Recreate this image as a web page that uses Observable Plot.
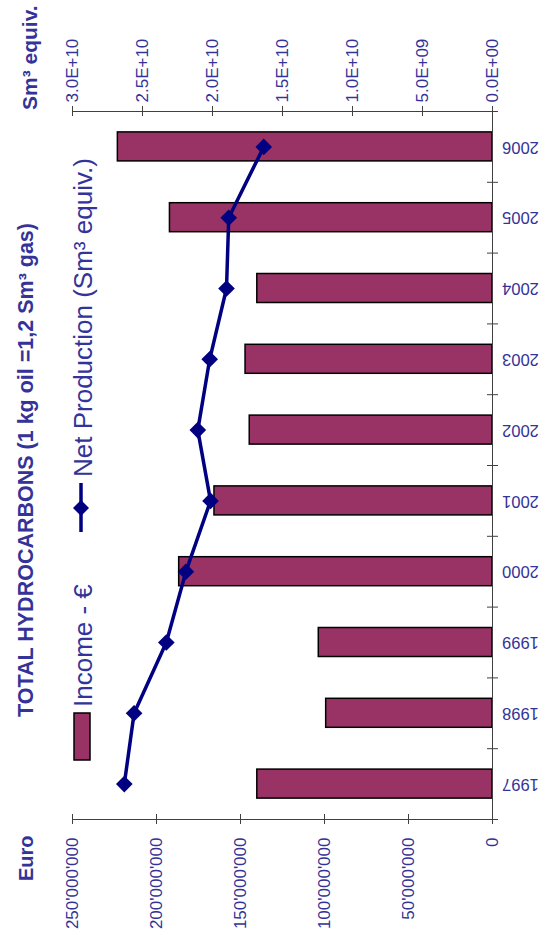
<!DOCTYPE html>
<html>
<head>
<meta charset="utf-8">
<script src="https://cdn.jsdelivr.net/npm/d3@7"></script>
<script src="https://cdn.jsdelivr.net/npm/@observablehq/plot@0.6"></script>
<style>
  html, body { margin: 0; padding: 0; background: #fff; }
  svg { display: block; }
</style>
</head>
<body>
<div id="chart"></div>
<script>
// ---- data ----
const years = [1997, 1998, 1999, 2000, 2001, 2002, 2003, 2004, 2005, 2006];
const income = [140e6, 99e6, 103.4e6, 186.5e6, 165.5e6, 144.5e6, 147e6, 140e6, 192e6, 223e6];
const production = [2.63e10, 2.56e10, 2.33e10, 2.19e10, 2.014e10, 2.105e10, 2.02e10, 1.90e10, 1.884e10, 1.634e10];
const euroTicks = [0, 50e6, 100e6, 150e6, 200e6, 250e6];
const euroTickLabels = ["0", "50'000'000", "100'000'000", "150'000'000", "200'000'000", "250'000'000"];
const sm3Ticks = [0, 5e9, 1e10, 1.5e10, 2e10, 2.5e10, 3e10];
const sm3TickLabels = ["0.0E+00", "5.0E+09", "1.0E+10", "1.5E+10", "2.0E+10", "2.5E+10", "3.0E+10"];
const titleText = "TOTAL HYDROCARBONS (1 kg oil =1,2 Sm\u00b3 gas)";
const seriesNames = ["Income - \u20ac", "Net Production (Sm\u00b3 equiv.)"];
const leftAxisTitle = "Euro";
const rightAxisTitle = "Sm\u00b3 equiv.";

const EURO_MAX = 250e6, SM3_MAX = 3e10;
const K = EURO_MAX / SM3_MAX; // map secondary axis onto the primary scale

const table = years.map((y, i) => ({year: y, income: income[i], sm3: production[i]}));
const bounds = d3.range(years.length + 1).map(i => years[0] - 0.5 + i);
const yBottom = years[0] - 0.5, yTop = years[years.length - 1] + 0.5;

const textColor = "#333399";
const axisColor = "#404040";
const font = "'Liberation Sans', Arial, Helvetica, sans-serif";

const svg = Plot.plot({
  width: 551,
  height: 935,
  marginLeft: 72,
  marginRight: 59,
  marginTop: 111,
  marginBottom: 116,
  style: {fontFamily: font, background: "#fff", color: textColor, overflow: "visible"},
  x: {domain: [0, EURO_MAX], reverse: true, axis: null},
  y: {domain: [yBottom, yTop], axis: null},
  marks: [
    // bars
    Plot.rect(table, {
      x1: () => 0, x2: "income",
      y1: d => d.year - 0.5, y2: d => d.year + 0.5,
      insetTop: 20.9, insetBottom: 20.9,
      fill: "#993366", stroke: "#000", strokeWidth: 1.5
    }),
    // axis lines
    Plot.ruleY([yBottom], {stroke: axisColor, strokeWidth: 1}),
    Plot.ruleY([yTop], {stroke: axisColor, strokeWidth: 1}),
    Plot.ruleX([0], {y1: () => yTop, y2: () => yBottom, insetTop: -4, insetBottom: -4, stroke: axisColor, strokeWidth: 1}),
    // euro ticks (bottom)
    Plot.ruleX(euroTicks, {x: d => d, y1: () => yBottom, y2: () => yBottom, insetTop: -5, insetBottom: -5, stroke: axisColor, strokeWidth: 1}),
    // sm3 ticks (top)
    Plot.ruleX(sm3Ticks, {x: d => d * K, y1: () => yTop, y2: () => yTop, insetTop: -5, insetBottom: -5, stroke: axisColor, strokeWidth: 1}),
    // category boundary ticks
    Plot.ruleY(bounds, {y: d => d, x1: () => 0, x2: () => 0, insetLeft: -5, insetRight: -6, stroke: axisColor, strokeWidth: 1}),
    // line + diamonds
    Plot.line(table, {x: d => d.sm3 * K, y: "year", stroke: "#000080", strokeWidth: 3.5}),
    Plot.dot(table, {x: d => d.sm3 * K, y: "year", symbol: "diamond2", r: 7.5, fill: "#000080", stroke: "none"}),
    // euro tick labels
    Plot.text(euroTicks, {x: d => d, y: () => yBottom, text: (d, i) => euroTickLabels[i], rotate: -90, textAnchor: "end", lineAnchor: "middle", dy: 18, fontSize: 17, fill: textColor}),
    // sm3 tick labels
    Plot.text(sm3Ticks, {x: d => d * K, y: () => yTop, text: (d, i) => sm3TickLabels[i], rotate: -90, textAnchor: "start", lineAnchor: "middle", dy: -9, fontSize: 17, fill: textColor}),
    // year labels (upside down)
    Plot.text(years, {x: () => 0, y: d => d, text: d => String(d), rotate: 180, textAnchor: "middle", lineAnchor: "middle", dx: 28, fontSize: 16.5, fill: textColor})
  ]
});

const s = d3.select(svg);
function rotText(x, y, txt, size, weight) {
  s.append("text")
    .attr("transform", `translate(${x},${y}) rotate(-90)`)
    .attr("text-anchor", "start")
    .attr("font-family", font)
    .attr("font-size", size)
    .attr("font-weight", weight)
    .attr("fill", textColor)
    .text(txt);
}
// title and axis titles
rotText(33, 717, titleText, 21.5, "bold");
rotText(33, 881, leftAxisTitle, 20, "bold");
rotText(37, 110, rightAxisTitle, 21, "bold");
// legend
s.append("rect").attr("x", 74).attr("y", 713).attr("width", 16).attr("height", 47)
  .attr("fill", "#993366").attr("stroke", "#000").attr("stroke-width", 1.5);
rotText(92, 707, seriesNames[0], 26, "normal");
s.append("line").attr("x1", 81).attr("x2", 81).attr("y1", 483).attr("y2", 532)
  .attr("stroke", "#000080").attr("stroke-width", 3.5);
s.append("path").attr("d", "M81,500 L89,508 L81,516 L73,508 Z").attr("fill", "#000080");
rotText(92, 477, seriesNames[1], 26, "normal");

document.getElementById("chart").appendChild(svg);
</script>
</body>
</html>
